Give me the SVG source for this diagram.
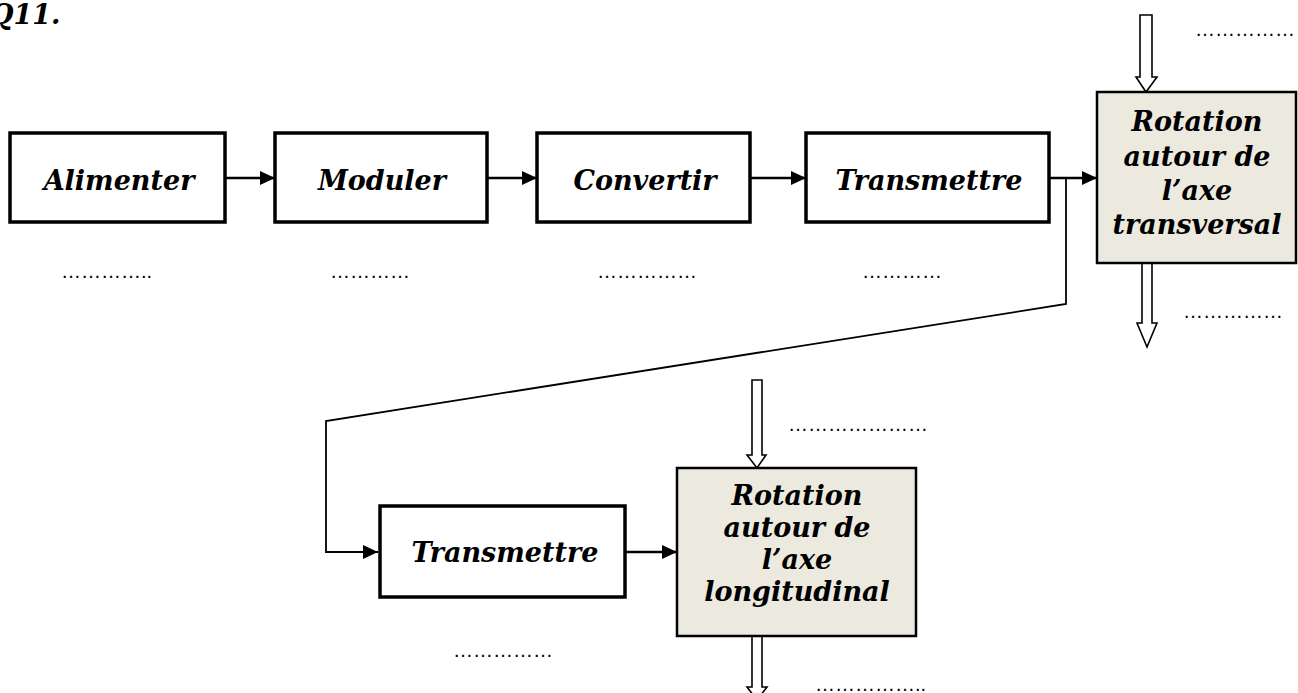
<svg xmlns="http://www.w3.org/2000/svg" width="1298" height="693" viewBox="0 0 1298 693">
<defs>
<style>
.box{fill:#fff;stroke:#000;stroke-width:3.5}
.sbox{fill:#ECE9DF;stroke:#000;stroke-width:2.5}
.lbl{font-family:"DejaVu Serif",serif;font-weight:bold;font-style:italic;font-size:27px;fill:#000;text-anchor:middle}
.dots{font-family:"Liberation Sans",sans-serif;font-size:20px;fill:#000}
.con{fill:none;stroke:#000;stroke-width:2.5}
.thin{fill:none;stroke:#000;stroke-width:1.8}
.hollow{fill:#fff;stroke:#000;stroke-width:1.6}
</style>
<marker id="ah" markerUnits="userSpaceOnUse" markerWidth="18" markerHeight="18" refX="16" refY="9" orient="auto">
<path d="M1,2 L16,9 L1,16 Z" fill="#000"/>
</marker>
</defs>
<rect width="1298" height="693" fill="#fff"/>
<text x="-10" y="24" style="font-family:'DejaVu Serif',serif;font-weight:bold;font-style:italic;font-size:27px">Q11.</text>

<g id="connectors">
<line class="con" x1="225" y1="178" x2="275" y2="178" marker-end="url(#ah)"/>
<line class="con" x1="487" y1="178" x2="537" y2="178" marker-end="url(#ah)"/>
<line class="con" x1="750" y1="178" x2="806" y2="178" marker-end="url(#ah)"/>
<line class="con" x1="1049" y1="178" x2="1097" y2="178" marker-end="url(#ah)"/>
<polyline class="thin" points="1066,178 1066,304 326,421 326,552 378,552" marker-end="url(#ah)"/>
<line class="con" x1="625" y1="552" x2="677" y2="552" marker-end="url(#ah)"/>
<polygon class="hollow" points="1140,15 1152,15 1152,77 1157,77 1146,92 1136,77 1140,77"/>
<polygon class="hollow" points="1142,263 1152,263 1152,323 1157,323 1147,347 1137,323 1142,323"/>
<polygon class="hollow" points="752,380 762,380 762,455 766,455 757,468 747,455 752,455"/>
<polygon class="hollow" points="752,636 762,636 762,687 767,687 757,700 747,687 752,687"/>
</g>

<g id="n-alimenter"><rect class="box" x="10" y="133" width="215" height="89"/><text class="lbl" x="119" y="190">Alimenter</text></g>
<g id="n-moduler"><rect class="box" x="275" y="133" width="212" height="89"/><text class="lbl" x="382" y="190">Moduler</text></g>
<g id="n-convertir"><rect class="box" x="537" y="133" width="213" height="89"/><text class="lbl" x="645" y="190">Convertir</text></g>
<g id="n-transmettre1"><rect class="box" x="806" y="133" width="243" height="89"/><text class="lbl" x="929" y="190">Transmettre</text></g>
<g id="n-rot-trans"><rect class="sbox" x="1097" y="92" width="199" height="171"/>
<text class="lbl" x="1197" y="131">Rotation</text>
<text class="lbl" x="1197" y="166">autour de</text>
<text class="lbl" x="1197" y="200">l’axe</text>
<text class="lbl" x="1197" y="234">transversal</text></g>
<g id="n-transmettre2"><rect class="box" x="380" y="506" width="245" height="91"/><text class="lbl" x="505" y="562">Transmettre</text></g>
<g id="n-rot-long"><rect class="sbox" x="677" y="468" width="239" height="168"/>
<text class="lbl" x="797" y="505">Rotation</text>
<text class="lbl" x="797" y="537">autour de</text>
<text class="lbl" x="797" y="569">l’axe</text>
<text class="lbl" x="797" y="601">longitudinal</text></g>

<g id="dots">
<text class="dots" x="61" y="278">…………..</text>
<text class="dots" x="330" y="278">…………</text>
<text class="dots" x="597" y="278">……………</text>
<text class="dots" x="862" y="278">…………</text>
<text class="dots" x="1195" y="36">……………</text>
<text class="dots" x="1183" y="318">……………</text>
<text class="dots" x="788" y="431">…………………</text>
<text class="dots" x="815" y="691">……………..</text>
<text class="dots" x="453" y="657">……………</text>
</g>
</svg>
